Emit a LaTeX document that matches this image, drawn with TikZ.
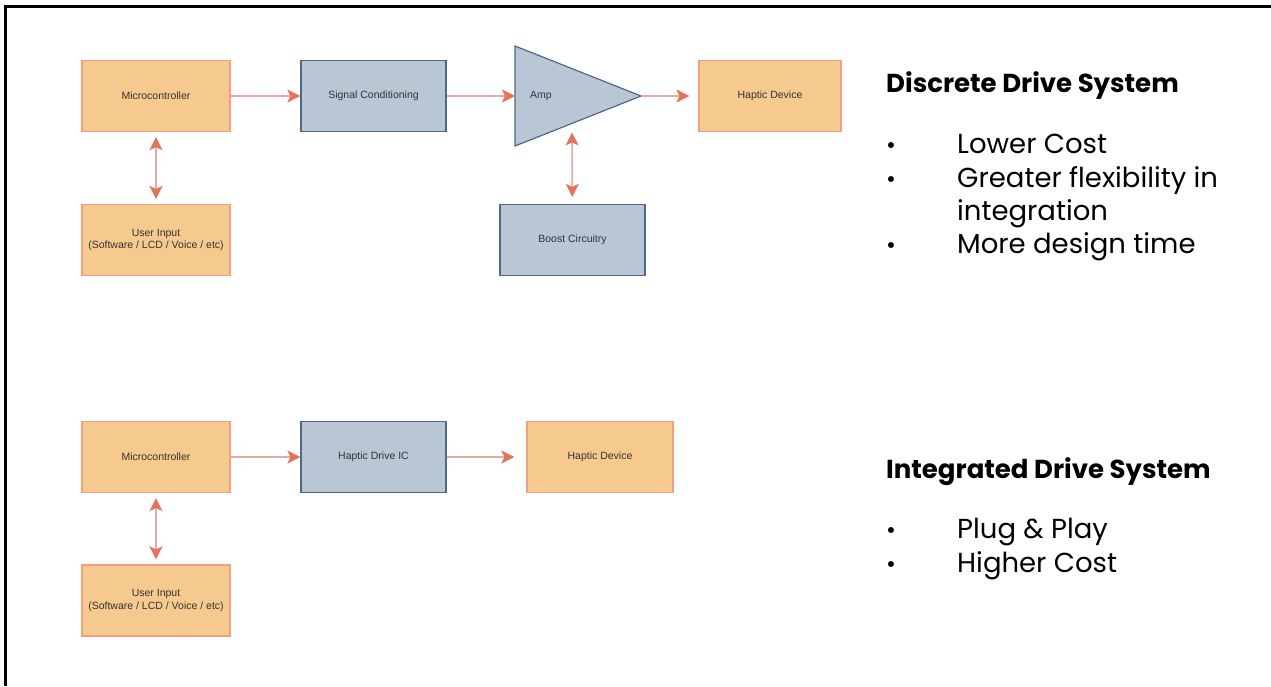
\documentclass[tikz,border=0pt]{standalone}
\usepackage{fontspec}
\setmainfont{Liberation Sans}
\newfontfamily\gothic{Poppins}
\usetikzlibrary{arrows.meta}
\definecolor{ofill}{HTML}{F6CA8E}
\definecolor{oline}{HTML}{EFA07F}
\definecolor{bfill}{HTML}{B9C7D5}
\definecolor{bline}{HTML}{4E6887}
\definecolor{shaft}{HTML}{E8A8A6}
\definecolor{head}{HTML}{E3735A}
\definecolor{lbl}{HTML}{333333}
\tikzset{
  obox/.style={draw=oline, fill=ofill, line width=1.2pt, minimum width=148pt, minimum height=71pt, inner sep=0pt, font=\fontsize{10.5}{12.5}\selectfont, text=lbl, align=center},
  bbox/.style={draw=bline, fill=bfill, line width=1.2pt, minimum width=145pt, minimum height=71pt, inner sep=0pt, font=\fontsize{10.5}{12.5}\selectfont, text=lbl, align=center},
  conn/.style={draw=shaft, line width=1.6pt, -{Stealth[length=13pt,width=13pt,inset=3pt,color=head]}},
  dconn/.style={draw=shaft, line width=1.6pt, {Stealth[length=13pt,width=13pt,inset=3pt,color=head]}-{Stealth[length=13pt,width=13pt,inset=3pt,color=head]}},
  head1/.style={anchor=base west, inner sep=0pt, font=\gothic\bfseries\fontsize{26}{30}\selectfont},
  item/.style={anchor=base west, inner sep=0pt, font=\gothic\fontsize{27.5}{32}\selectfont},
  bul/.style={anchor=base west, inner sep=0pt, font=\gothic\fontsize{24}{28}\selectfont}
}
\begin{document}
\begin{tikzpicture}[x=1pt,y=-1pt]
\useasboundingbox (0,0) rectangle (1271,686);
\draw[line width=2.5pt] (1271,6.5) -- (5.5,6.5) -- (5.5,686);
% top row
\node[obox] (mc1) at (156,96) {Microcontroller};
\node[bbox] (sc) at (373.5,96) {Signal Conditioning};
\coordinate (ampin) at (515,96);
\coordinate (amptop) at (515,46);
\coordinate (ampbot) at (515,146);
\coordinate (ampout) at (641,96);
\draw[draw=bline, fill=bfill, line width=1.2pt, line join=round] (amptop) -- (ampout) -- (ampbot) -- cycle;
\node[text=lbl, font=\fontsize{10.5}{12.5}\selectfont] (amp) at (541,96) {Amp};
\coordinate (ampb) at (572,123.4);
\node[obox, minimum width=142pt] (hd1) at (770,96) {Haptic Device};
\node[obox] (ui1) at (156,240) {User Input\\(Software / LCD / Voice / etc)};
\node[bbox] (bc) at (572.5,240) {Boost Circuitry};
\draw[conn] (mc1) -- (sc);
\draw[conn] (sc) -- (ampin);
\draw[conn, shorten >=9pt] (ampout) -- (hd1);
\draw[dconn, shorten <=5pt, shorten >=5pt] (mc1) -- (ui1);
\draw[dconn, shorten <=9pt, shorten >=7pt] (ampb) -- (bc);
% bottom row
\node[obox] (mc2) at (156,457) {Microcontroller};
\node[bbox] (hdic) at (373.5,457) {Haptic Drive IC};
\node[obox, minimum width=146pt] (hd2) at (600,457) {Haptic Device};
\node[obox] (ui2) at (156,600.5) {User Input\\(Software / LCD / Voice / etc)};
\draw[conn] (mc2) -- (hdic);
\draw[conn, shorten >=12pt] (hdic) -- (hd2);
\draw[dconn, shorten <=5pt, shorten >=5pt] (mc2) -- (ui2);
% right text
\node[head1] (t1) at (886,92) {Discrete Drive System};
\node[bul] (b1) at (886,153) {•};
\node[item] (i1) at (957,153) {Lower Cost};
\node[bul] (b2) at (886,187) {•};
\node[item] (i2) at (957,187) {Greater flexibility in};
\node[item] (i2b) at (957,220) {integration};
\node[bul] (b3) at (886,253) {•};
\node[item] (i3) at (957,253) {More design time};
\node[head1] (t2) at (886,478) {Integrated Drive System};
\node[bul] (b4) at (886,538) {•};
\node[item] (i4) at (957,538) {Plug \& Play};
\node[bul] (b5) at (886,572) {•};
\node[item] (i5) at (957,572) {Higher Cost};
\end{tikzpicture}
\end{document}
